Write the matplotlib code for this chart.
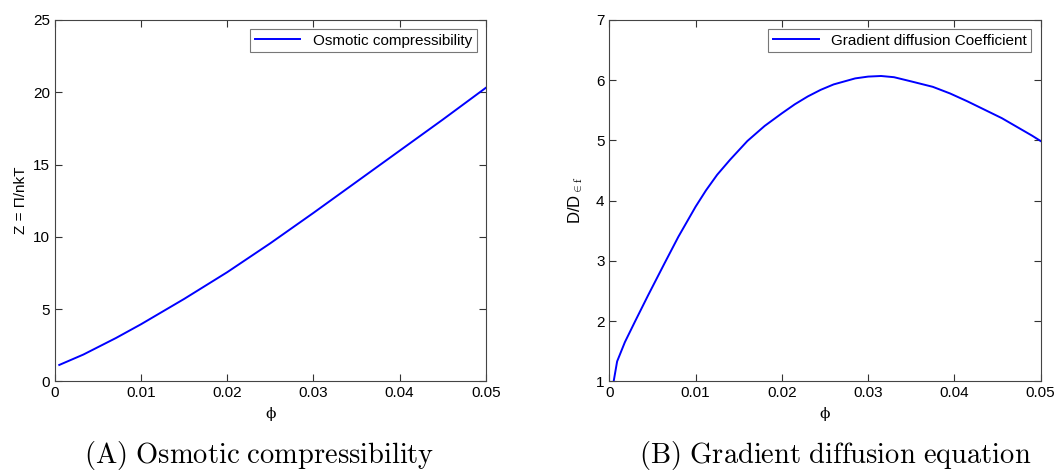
import matplotlib
matplotlib.use('Agg')
import matplotlib.pyplot as plt

plt.rcParams['font.family'] = ['Liberation Sans', 'DejaVu Sans']
plt.rcParams['mathtext.fontset'] = 'cm'

# left panel: osmotic compressibility Z(phi)
phi_z = [0.0005, 0.0033, 0.0071, 0.0100, 0.0150, 0.0200, 0.0250,
         0.0300, 0.0350, 0.0400, 0.0450, 0.0500]
z_vals = [1.13, 1.85, 3.00, 3.95, 5.70, 7.55, 9.55,
          11.65, 13.80, 15.95, 18.10, 20.30]

# right panel: gradient diffusion coefficient D/Dref(phi)
phi_d = [0.0005, 0.0009, 0.0018, 0.0030, 0.0045, 0.0064, 0.0080, 0.0100,
         0.0112, 0.0125, 0.0140, 0.0160, 0.0180, 0.0200, 0.0215, 0.0230,
         0.0245, 0.0260, 0.0285, 0.0300, 0.0315, 0.0330, 0.0350, 0.0375,
         0.0395, 0.0415, 0.0455, 0.0490, 0.0500]
d_vals = [1.00, 1.33, 1.65, 2.00, 2.43, 2.96, 3.40, 3.90,
          4.17, 4.43, 4.68, 4.99, 5.24, 5.45, 5.60, 5.73,
          5.84, 5.93, 6.03, 6.06, 6.07, 6.05, 5.98, 5.89,
          5.78, 5.65, 5.37, 5.08, 4.99]

x_ticks = [0, 0.01, 0.02, 0.03, 0.04, 0.05]
x_labels = ['0', '0.01', '0.02', '0.03', '0.04', '0.05']

fig = plt.figure(figsize=(10.57, 4.76), dpi=100)
ax1 = fig.add_axes([0.052, 0.199, 0.4075, 0.759])
ax2 = fig.add_axes([0.5765, 0.199, 0.408, 0.759])


def style(ax):
    ax.tick_params(direction='in', top=True, right=True, labelsize=11,
                   length=5, width=0.8, colors='#333333', labelcolor='black')
    for s in ax.spines.values():
        s.set_color('#444444')
        s.set_linewidth(0.8)
    ax.set_xlim(0, 0.05)
    ax.set_xticks(x_ticks)
    ax.set_xticklabels(x_labels)
    ax.set_xlabel('\u03d5', family='DejaVu Serif', fontsize=11, labelpad=5)
    leg = ax.legend(loc='upper right', fontsize=11, fancybox=False,
                    edgecolor='#555555', handlelength=3.0, borderpad=0.3,
                    borderaxespad=0.6)
    leg.get_frame().set_linewidth(0.8)


ax1.plot(phi_z, z_vals, color='blue', lw=1.4, label='Osmotic compressibility')
ax1.set_ylim(0, 25)
ax1.set_yticks([0, 5, 10, 15, 20, 25])
ax1.set_ylabel('Z = \u03a0/nkT', fontsize=11)
style(ax1)

ax2.plot(phi_d, d_vals, color='blue', lw=1.4, label='Gradient diffusion Coefficient')
ax2.set_ylim(1, 7)
ax2.set_yticks([1, 2, 3, 4, 5, 6, 7])
ax2.set_ylabel(r'D/D$_{\in \mathrm{f}}$', fontsize=12, labelpad=8)
style(ax2)

fig.text(0.245, 0.044, r'$\mathrm{(A)\ Osmotic\ compressibility}$',
         ha='center', va='center', fontsize=20.5)
fig.text(0.79, 0.044, r'$\mathrm{(B)\ Gradient\ diffusion\ equation}$',
         ha='center', va='center', fontsize=20.5)

fig.savefig('out.png', dpi=100)
